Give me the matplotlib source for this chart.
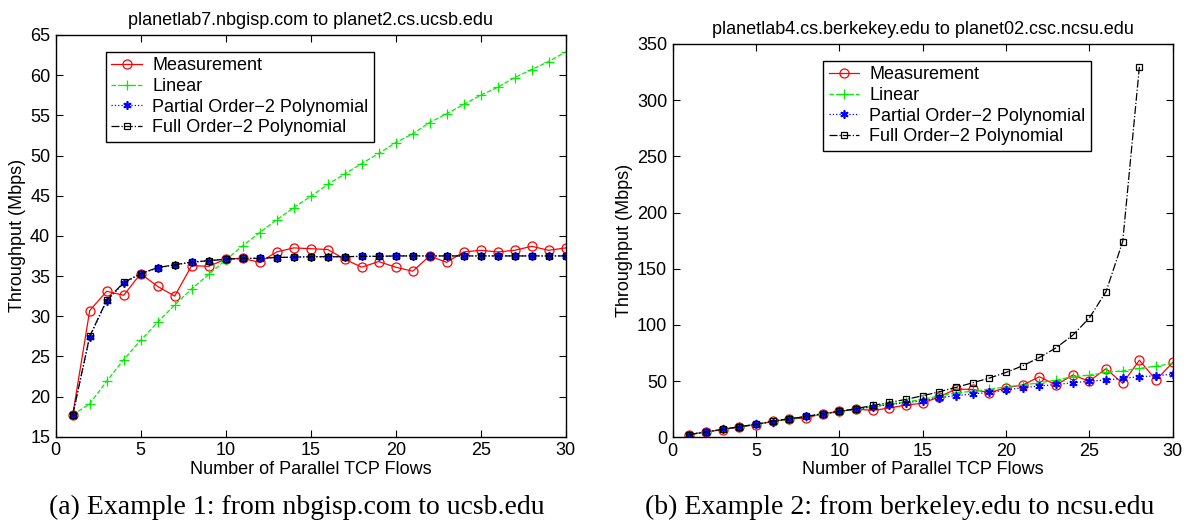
import numpy as np
import matplotlib
matplotlib.use("Agg")
import matplotlib.pyplot as plt

plt.rcParams['font.family'] = ['Liberation Sans', 'DejaVu Sans']
plt.rcParams['font.size'] = 13

# Number of parallel TCP flows
flows = list(range(1, 31))

# Example 1: planetlab7.nbgisp.com -> planet2.cs.ucsb.edu
meas_a = [17.7, 30.7, 33.1, 32.6, 35.3, 33.7, 32.5, 36.3, 36.2, 37.1,
          37.2, 36.7, 38.0, 38.5, 38.4, 38.3, 37.1, 36.1, 36.8, 36.1,
          35.6, 37.5, 36.7, 38.0, 38.2, 38.0, 38.2, 38.7, 38.2, 38.5]
linear_a = [17.7, 19.1, 21.9, 24.6, 27.0, 29.25, 31.4, 33.4, 35.2, 37.0,
            38.75, 40.4, 42.0, 43.5, 44.9, 46.4, 47.7, 49.0, 50.25, 51.6,
            52.7, 54.1, 55.2, 56.35, 57.5, 58.5, 59.7, 60.7, 61.7, 62.9]
partial_a = [17.7, 27.4, 31.9, 34.1, 35.3, 36.0, 36.4, 36.7, 36.9, 37.1,
             37.2, 37.2, 37.3, 37.35, 37.4, 37.4, 37.4, 37.45, 37.45, 37.5,
             37.5, 37.5, 37.5, 37.5, 37.5, 37.5, 37.5, 37.5, 37.5, 37.5]
full_a = [17.7, 27.5, 32.0, 34.2, 35.3, 36.05, 36.4, 36.75, 36.9, 37.1,
          37.2, 37.2, 37.3, 37.35, 37.4, 37.4, 37.4, 37.45, 37.45, 37.5,
          37.5, 37.5, 37.5, 37.5, 37.5, 37.5, 37.5, 37.5, 37.5, 37.5]

# Example 2: planetlab4.cs.berkekey.edu -> planet02.csc.ncsu.edu
meas_b = [2.4, 4.8, 6.8, 9.2, 11.2, 14.2, 16.3, 17.2, 21.0, 23.0,
          25.1, 23.9, 26.0, 28.7, 30.3, 36.1, 42.9, 42.6, 39.7, 44.1,
          46.5, 53.9, 46.5, 55.3, 50.0, 61.0, 48.0, 68.6, 50.9, 66.6]
linear_b = [2.4, 4.8, 7.0, 9.3, 11.5, 13.8, 16.0, 18.3, 20.5, 22.8,
            25.0, 27.5, 29.5, 31.5, 33.7, 37.0, 39.5, 41.0, 42.6, 45.0,
            46.5, 48.5, 50.9, 53.9, 55.3, 57.7, 59.2, 61.3, 63.3, 65.7]
partial_b = [2.4, 4.8, 7.0, 9.3, 11.5, 14.0, 16.3, 18.5, 21.0, 23.0,
             25.0, 27.0, 29.0, 30.8, 32.5, 35.2, 37.0, 38.5, 40.0, 42.0,
             44.1, 45.6, 47.0, 48.5, 50.0, 50.9, 52.4, 53.9, 54.7, 56.2]
flows_full_b = list(range(1, 29))
full_b = [2.4, 4.8, 7.0, 9.5, 11.5, 14.5, 16.5, 18.5, 21.0, 23.0,
          25.5, 28.3, 31.0, 33.7, 37.0, 40.5, 44.4, 48.5, 52.7, 57.7,
          63.6, 71.0, 79.6, 90.8, 106.2, 129.6, 174.2, 329.6]

labels = ["Measurement", "Linear", "Partial Order\u22122 Polynomial",
          "Full Order\u22122 Polynomial"]

fig = plt.figure(figsize=(11.86, 5.23), dpi=100)
ax1 = fig.add_axes([0.04697, 0.1650, 0.4300, 0.7681])
ax2 = fig.add_axes([0.5672, 0.1639, 0.4216, 0.7520])


def draw(ax, meas, lin, part, fx, full):
    ax.plot(flows, meas, color='red', lw=0.9, marker='o', ms=6.5,
            mfc='none', mec='red', mew=0.9, label=labels[0])
    ax.plot(flows, lin, color='#00ee00', lw=0.9, ls='--', marker='+', ms=7,
            mew=0.9, label=labels[1])
    # MATLAB-style asterisk marker
    ax.plot(flows, part, color='blue', lw=0.9, ls=':', marker=(6, 2, 0), ms=6,
            mew=1.2, label=labels[2])
    ax.plot(fx, full, color='black', lw=0.9, ls='-.', marker='s', ms=5,
            mfc='none', mec='black', mew=0.9, label=labels[3])
    ax.set_xlim(0, 30)
    ax.set_xticks(range(0, 31, 5))
    ax.tick_params(direction='in', top=True, right=True, length=5,
                   width=0.8, labelsize=13, pad=4)
    for s in ax.spines.values():
        s.set_linewidth(1.0)
    ax.set_xlabel("Number of Parallel TCP Flows", fontsize=13, labelpad=1)
    ax.set_ylabel("Throughput (Mbps)", fontsize=13, labelpad=3)


draw(ax1, meas_a, linear_a, partial_a, flows, full_a)
ax1.set_ylim(15, 65)
ax1.set_yticks(range(15, 66, 5))
ax1.set_title("planetlab7.nbgisp.com to planet2.cs.ucsb.edu", fontsize=13, pad=7)

draw(ax2, meas_b, linear_b, partial_b, flows_full_b, full_b)
ax2.set_ylim(0, 350)
ax2.set_yticks(range(0, 351, 50))
ax2.set_title("planetlab4.cs.berkekey.edu to planet02.csc.ncsu.edu", fontsize=13, pad=7)

leg_kw = dict(loc='upper left', bbox_transform=fig.transFigure, fontsize=13,
              fancybox=False, edgecolor='black', framealpha=1, borderaxespad=0,
              borderpad=0.3, labelspacing=0.2, handlelength=1.7,
              handletextpad=0.55)
l1 = ax1.legend(bbox_to_anchor=(0.0894, 0.9006), **leg_kw)
l2 = ax2.legend(bbox_to_anchor=(0.694, 0.8834), **leg_kw)
for lg in (l1, l2):
    lg.get_frame().set_linewidth(1.0)

fig.text(297 / 1186, 1 - 507 / 523, "(a) Example 1: from nbgisp.com to ucsb.edu",
         ha='center', va='center', fontsize=20, family=['Liberation Serif', 'DejaVu Serif'])
fig.text(900 / 1186, 1 - 507 / 523, "(b) Example 2: from berkeley.edu to ncsu.edu",
         ha='center', va='center', fontsize=20, family=['Liberation Serif', 'DejaVu Serif'])

fig.savefig("out.png", dpi=100)
